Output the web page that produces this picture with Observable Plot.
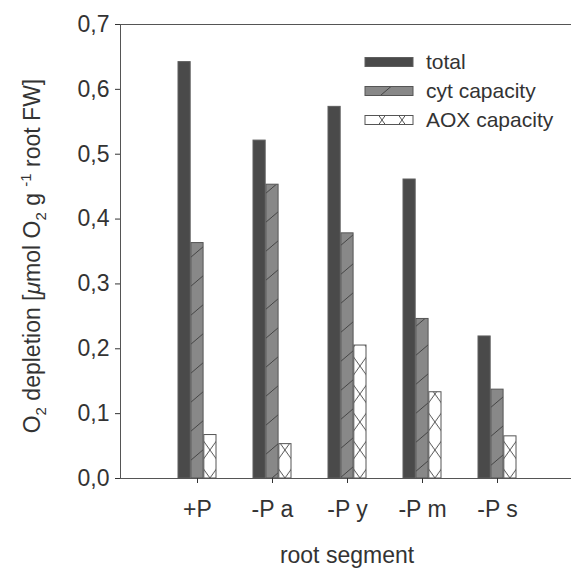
<!DOCTYPE html>
<html><head><meta charset="utf-8">
<script src="https://cdn.jsdelivr.net/npm/d3@7"></script>
<script src="https://cdn.jsdelivr.net/npm/@observablehq/plot@0.6"></script>
<style>html,body{margin:0;padding:0;background:#fff;overflow:hidden;}</style>
</head><body><div id="chart"></div>
<script>
const categories = ["+P", "-P a", "-P y", "-P m", "-P s"];
const seriesNames = ["total", "cyt capacity", "AOX capacity"];
const totalValues = [0.642, 0.521, 0.573, 0.461, 0.219];
const cytValues   = [0.363, 0.453, 0.378, 0.246, 0.137];
const aoxValues   = [0.067, 0.053, 0.205, 0.133, 0.065];
const yTicks = [0, 0.1, 0.2, 0.3, 0.4, 0.5, 0.6, 0.7];
const xTitle = "root segment";

const W = 571, H = 570, mL = 120, mR = -3, mT = 24, mB = 92;
const pIn = 0.488, pOut = 0.744;
const step = (W - mL - mR) / (categories.length - pIn + 2 * pOut);
const bw = step * (1 - pIn);
const third = bw / 3;
const font = "'Liberation Sans', Arial, sans-serif";
const ink = "#333";

const rows = vals => categories.map((c, i) => ({cat: c, value: vals[i]}));

const svgNode = Plot.plot({
  width: W, height: H,
  marginLeft: mL, marginRight: mR, marginTop: mT, marginBottom: mB,
  style: {fontFamily: font, fontSize: "23px", color: ink, background: "#fff", overflow: "hidden"},
  x: {type: "band", domain: categories, paddingInner: pIn, paddingOuter: pOut, align: 0.5},
  y: {domain: [0, 0.7]},
  marks: [
    Plot.barY(rows(totalValues), {x: "cat", y: "value", fill: "#4a4a4a", stroke: "#5e5e5e", strokeWidth: 1, insetRight: 2 * third}),
    Plot.barY(rows(cytValues), {x: "cat", y: "value", fill: "#888", stroke: "#555", strokeWidth: 1, insetLeft: third, insetRight: third}),
    Plot.barY(rows(aoxValues), {x: "cat", y: "value", fill: "#fff", stroke: "#555", strokeWidth: 1, insetLeft: 2 * third}),
    Plot.frame({stroke: "#555", strokeWidth: 1}),
    Plot.axisY({ticks: yTicks, tickSize: 5, tickPadding: 6, fontSize: 23,
      tickFormat: d => d3.format(".1f")(d).replace(".", ","), label: null}),
    Plot.axisX({tickSize: 5, tickPadding: 17, fontSize: 23, label: null})
  ]
});
document.getElementById("chart").appendChild(svgNode);

const svg = d3.select(svgNode);
const defs = svg.insert("defs", ":first-child");
const baseY = H - mB;

// diagonal hatch for cyt capacity
const hatchW = 34, hatchH = 29;
const hatch = defs.append("pattern").attr("id", "cytHatch").attr("patternUnits", "userSpaceOnUse")
  .attr("x", 0).attr("y", baseY).attr("width", hatchW).attr("height", hatchH);
hatch.append("rect").attr("width", hatchW).attr("height", hatchH).attr("fill", "#888");
[[0, hatchH, hatchW, 0], [-hatchW, hatchH, 0, 0], [hatchW, hatchH, 2 * hatchW, 0]].forEach(([a, b, c, d]) =>
  hatch.append("line").attr("x1", a).attr("y1", b).attr("x2", c).attr("y2", d).attr("stroke", "#3c3c3c").attr("stroke-width", 0.9));

// crosshatch pattern factory for AOX capacity
const P = 28, s = 1.4, cw = P / s;
function crossPattern(id, x0, y0) {
  const p = defs.append("pattern").attr("id", id).attr("patternUnits", "userSpaceOnUse")
    .attr("x", x0).attr("y", y0).attr("width", cw).attr("height", P);
  p.append("rect").attr("width", cw).attr("height", P).attr("fill", "#fff");
  p.append("line").attr("x1", 0).attr("y1", 0).attr("x2", cw).attr("y2", P).attr("stroke", "#3c3c3c").attr("stroke-width", 0.9);
  p.append("line").attr("x1", 0).attr("y1", P).attr("x2", cw).attr("y2", 0).attr("stroke", "#3c3c3c").attr("stroke-width", 0.9);
  return `url(#${id})`;
}

const barGroups = svgNode.querySelectorAll('g[aria-label="bar"]');
if (barGroups.length >= 3) {
  barGroups[1].querySelectorAll("rect").forEach(r => r.setAttribute("fill", "url(#cytHatch)"));
  barGroups[1].setAttribute("fill", "url(#cytHatch)");
  barGroups[2].querySelectorAll("rect").forEach((r, i) => {
    const x = +r.getAttribute("x"), w = +r.getAttribute("width");
    r.setAttribute("fill", crossPattern("aox" + i, x + w / 2, baseY));
  });
}

// y axis title with sub/superscripts
const yt = svg.append("text")
  .attr("transform", `translate(32,${(mT + baseY) / 2 + 5}) rotate(-90)`)
  .attr("text-anchor", "middle").attr("dy", "0.35em")
  .attr("fill", ink).style("font-family", font).style("font-size", "23px");
yt.append("tspan").text("O");
yt.append("tspan").attr("dy", 6).style("font-size", "15px").text("2");
yt.append("tspan").attr("dy", -6).text(" depletion [");
yt.append("tspan").style("font-style", "italic").text("μ");
yt.append("tspan").text("mol O");
yt.append("tspan").attr("dy", 6).style("font-size", "15px").text("2");
yt.append("tspan").attr("dy", -6).text(" g ");
yt.append("tspan").attr("dy", -9).style("font-size", "15px").text("-1");
yt.append("tspan").attr("dy", 9).text(" root FW]");

// x axis title
svg.append("text").attr("x", (mL + W - mR) / 2).attr("y", 563)
  .attr("text-anchor", "middle").attr("fill", ink)
  .style("font-family", font).style("font-size", "23px").text(xTitle);

// legend
const legendFills = ["#4a4a4a", "url(#cytHatch)", null];
const legRowY = [62, 91, 120];
seriesNames.forEach((name, i) => {
  const cy = legRowY[i];
  let fill = legendFills[i];
  if (fill === null) fill = crossPattern("aoxLeg", 382, cy);
  svg.append("rect").attr("x", 365).attr("y", cy - 4.5).attr("width", 48).attr("height", 9)
    .attr("fill", fill).attr("stroke", i === 0 ? "#5e5e5e" : "#555").attr("stroke-width", 1);
  svg.append("text").attr("x", 426).attr("y", cy).attr("dy", "0.35em").attr("fill", ink)
    .attr("text-anchor", "start")
    .style("font-family", font).style("font-size", "21px").text(name);
});
</script>
</body></html>
